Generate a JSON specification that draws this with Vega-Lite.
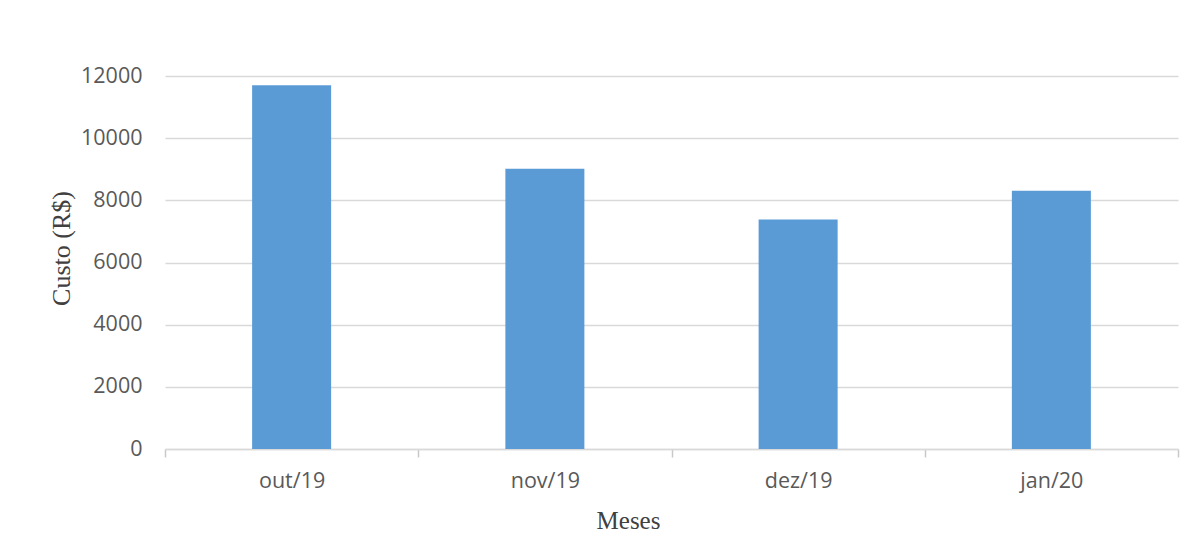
{
  "$schema": "https://vega.github.io/schema/vega-lite/v6.json",
  "autosize": "none",
  "padding": {"left": 165, "top": 76, "right": 16, "bottom": 107},
  "width": 1013,
  "height": 373,
  "background": "white",
  "config": {"view": {"stroke": null}},
  "data": {
    "values": [
      {"mes": "out/19", "custo": 11700},
      {"mes": "nov/19", "custo": 9020},
      {"mes": "dez/19", "custo": 7380},
      {"mes": "jan/20", "custo": 8310}
    ]
  },
  "mark": {"type": "bar", "color": "#5b9bd5", "width": {"band": 0.312}},
  "encoding": {
    "x": {
      "field": "mes",
      "type": "nominal",
      "sort": null,
      "scale": {"paddingInner": 0, "paddingOuter": 0},
      "axis": {
        "title": "Meses",
        "titleFont": "Liberation Serif",
        "titleFontSize": 25,
        "titleFontWeight": "normal",
        "titleColor": "#404040",
        "titleX": 463,
        "titleY": 79,
        "titleAlign": "center",
        "titleBaseline": "alphabetic",
        "labelAngle": 0,
        "labelFont": "Open Sans",
        "labelFontSize": 21.5,
        "labelColor": "#595959",
        "labelPadding": 13,
        "ticks": true,
        "tickBand": "extent",
        "tickSize": 8,
        "tickColor": "#c8c8c8",
        "tickWidth": 1.5,
        "domainColor": "#d9d9d9",
        "domainWidth": 1.5,
        "grid": false
      }
    },
    "y": {
      "field": "custo",
      "type": "quantitative",
      "scale": {"domain": [0, 12000], "nice": false},
      "axis": {
        "title": "Custo (R$)",
        "titleFont": "Liberation Serif",
        "titleFontSize": 26,
        "titleFontWeight": "normal",
        "titleColor": "#404040",
        "titleAngle": -90,
        "titleX": -104,
        "titleY": 172,
        "titleAlign": "center",
        "titleBaseline": "middle",
        "values": [0, 2000, 4000, 6000, 8000, 10000, 12000],
        "format": "d",
        "labelFont": "Open Sans",
        "labelFontSize": 21.5,
        "labelColor": "#595959",
        "labelPadding": 23,
        "ticks": false,
        "domain": false,
        "grid": true,
        "gridColor": "#d9d9d9",
        "gridWidth": 1.5
      }
    }
  }
}
